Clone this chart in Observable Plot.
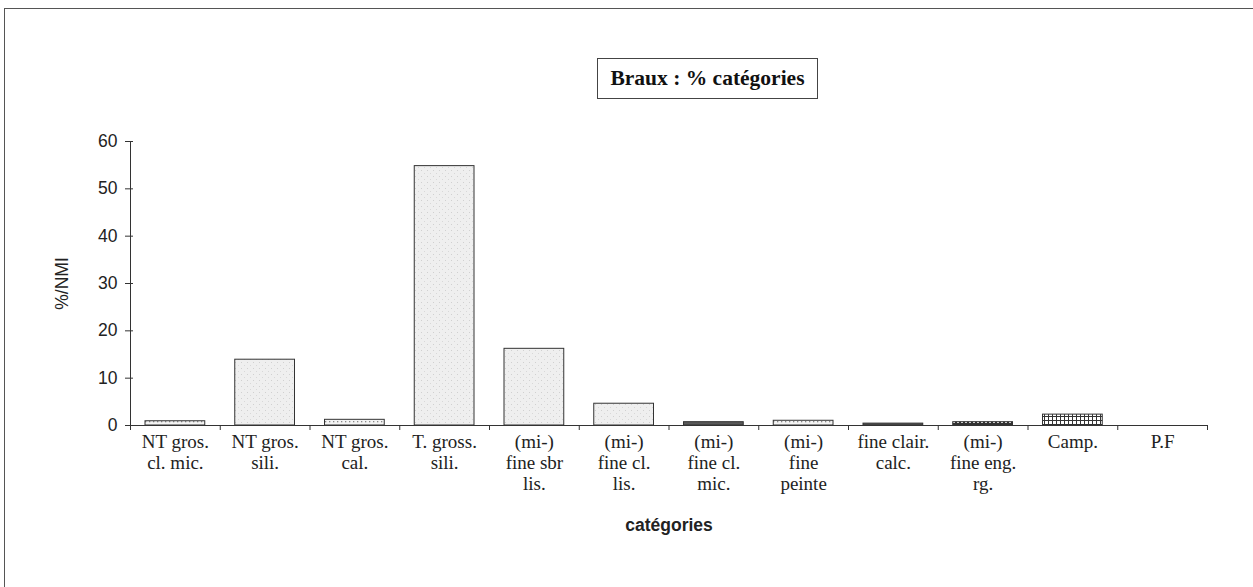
<!DOCTYPE html>
<html><head><meta charset="utf-8">
<script src="https://cdn.jsdelivr.net/npm/d3@7"></script>
<script src="https://cdn.jsdelivr.net/npm/@observablehq/plot@0.6"></script>
<style>
body{margin:0;background:#fff;}
#wrap{position:relative;width:1253px;height:587px;overflow:hidden;background:#fff;}
#frame{position:absolute;left:4px;top:8px;width:1300px;height:700px;border-left:1.5px solid #555;border-top:1.5px solid #555;}
#chart{position:absolute;left:0;top:0;}
#title{position:absolute;left:597px;top:58px;width:221px;height:41px;border:1px solid #444;box-sizing:border-box;font:bold 21.5px "Liberation Serif",serif;display:flex;align-items:center;justify-content:center;background:#fff;color:#111;}
</style></head>
<body><div id="wrap"><div id="frame"></div><div id="chart"></div><div id="title"></div></div>
<script>
// ---- data ----
const categories = [
  "NT gros.\ncl. mic.", "NT gros.\nsili.", "NT gros.\ncal.", "T. gross.\nsili.",
  "(mi-)\nfine sbr\nlis.", "(mi-)\nfine cl.\nlis.", "(mi-)\nfine cl.\nmic.", "(mi-)\nfine\npeinte",
  "fine clair.\ncalc.", "(mi-)\nfine eng.\nrg.", "Camp.", "P.F"
];
const values = [0.9, 13.9, 1.2, 54.8, 16.2, 4.6, 0.7, 1.0, 0.4, 0.7, 2.3, 0];
const yTicks = [0, 10, 20, 30, 40, 50, 60];
const titleText = "Braux : % catégories";
const xTitle = "catégories";
const yTitle = "%/NMI";

// ---- styles (pattern per bar) ----
const barPatterns = ["dotsLight","stipple","dotsLight","stipple","stipple","stipple","dark","dotsLight","dotsDark","checker","grid","stipple"];

document.getElementById("title").textContent = titleText;

const data = categories.map((c, i) => ({i, c, v: values[i], pat: `url(#${barPatterns[i]})`}));
const nCat = categories.length;
const sans = "Liberation Sans, Arial, sans-serif";
const serif = "Liberation Serif, Times New Roman, serif";

const svg = Plot.plot({
  width: 1253, height: 587,
  marginLeft: 130, marginRight: 46, marginTop: 141, marginBottom: 162,
  style: {background: "transparent", color: "#222"},
  x: {domain: [0, nCat]},
  y: {domain: [0, 60]},
  color: {type: "identity"},
  marks: [
    Plot.rectY(data, {x1: "i", x2: d => d.i + 1, y: "v", fill: "pat", stroke: "#333", strokeWidth: 1, insetLeft: 15, insetRight: 15}),
    Plot.ruleY([0], {stroke: "#333"}),
    Plot.ruleX([0], {stroke: "#333"}),
    Plot.axisY({ticks: yTicks, tickSize: 5, tickPadding: 8, fontSize: 17.5, fontFamily: sans, label: null, stroke: "#333"}),
    Plot.axisY({ticks: yTicks, tickSize: 3, anchor: "left", dx: 3, tickFormat: () => "", label: null, stroke: "#333"}),
    Plot.axisY({ticks: [], label: yTitle, labelAnchor: "center", labelOffset: 75, labelArrow: "none", fontSize: 17.5, fontFamily: sans}),
    Plot.axisX({ticks: d3.range(nCat + 1), tickFormat: () => "", tickSize: 5, label: null, stroke: "#333"}),
    Plot.axisX({ticks: d3.range(nCat).map(i => i + 0.5), tickFormat: t => categories[Math.floor(t)], tickSize: 0, tickPadding: 8, fontSize: 19, lineHeight: 1.1, fontFamily: serif, label: null}),
    Plot.axisX({ticks: [], label: xTitle, labelAnchor: "center", labelOffset: 105, labelArrow: "none", fontSize: 17.5, fontWeight: "bold", fontFamily: sans})
  ]
});

// pattern definitions
const defs = d3.select(svg).insert("defs", ":first-child");
function pat(id, w, h, draw) {
  const p = defs.append("pattern").attr("id", id).attr("patternUnits", "userSpaceOnUse").attr("width", w).attr("height", h);
  draw(p);
}
pat("dotsLight", 4, 4, p => {
  p.append("rect").attr("width", 4).attr("height", 4).attr("fill", "#f4f4f4");
  p.append("rect").attr("x", 1).attr("y", 1).attr("width", 1.3).attr("height", 1.3).attr("fill", "#888");
});
pat("stipple", 6, 6, p => {
  p.append("rect").attr("width", 6).attr("height", 6).attr("fill", "#efefef");
  p.append("rect").attr("x", 1).attr("y", 2).attr("width", 1).attr("height", 1).attr("fill", "#d0d0d0");
  p.append("rect").attr("x", 4).attr("y", 5).attr("width", 1).attr("height", 1).attr("fill", "#d8d8d8");
});
pat("dark", 4, 4, p => {
  p.append("rect").attr("width", 4).attr("height", 4).attr("fill", "#5a5a5a");
  p.append("rect").attr("x", 1).attr("y", 1).attr("width", 1).attr("height", 1).attr("fill", "#777");
});
pat("dotsDark", 4, 4, p => {
  p.append("rect").attr("width", 4).attr("height", 4).attr("fill", "#555");
  p.append("rect").attr("x", 1).attr("y", 1).attr("width", 1.2).attr("height", 1.2).attr("fill", "#bbb");
});
pat("checker", 4, 4, p => {
  p.append("rect").attr("width", 4).attr("height", 4).attr("fill", "#333");
  p.append("rect").attr("x", 1).attr("y", 1).attr("width", 2).attr("height", 2).attr("fill", "#eee");
});
pat("grid", 4, 4, p => {
  p.append("rect").attr("width", 4).attr("height", 4).attr("fill", "#fff");
  p.append("rect").attr("x", 0).attr("y", 0).attr("width", 4).attr("height", 1).attr("fill", "#333");
  p.append("rect").attr("x", 0).attr("y", 0).attr("width", 1).attr("height", 4).attr("fill", "#333");
});

document.getElementById("chart").appendChild(svg);
</script>
</body></html>
